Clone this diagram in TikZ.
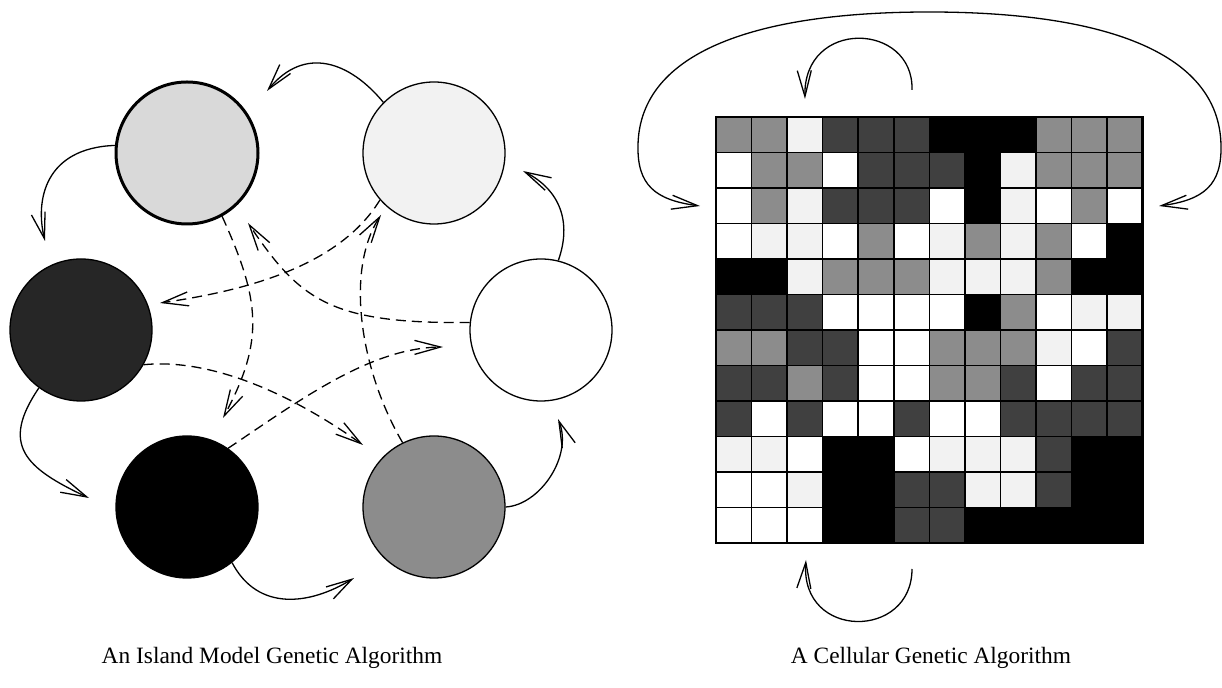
\documentclass[tikz,border=0pt]{standalone}
\usepackage{fontspec}
\setmainfont{Liberation Serif}
\usepackage{xcolor}
\usetikzlibrary{arrows.meta}
\definecolor{cA}{HTML}{D9D9D9}
\definecolor{cC}{HTML}{262626}
\definecolor{cW}{HTML}{FFFFFF}
\definecolor{cL}{HTML}{F2F2F2}
\definecolor{cG}{HTML}{8C8C8C}
\definecolor{cD}{HTML}{404040}
\definecolor{cB}{HTML}{000000}

\begin{document}
\begin{tikzpicture}[x=0.5pt, y=-0.5pt, island/.style={circle, draw=black, line width=0.65pt, minimum size=71pt, inner sep=0pt}]
            \useasboundingbox (0,0) rectangle (1222,688);
            \node[island, fill=cA, line width=1.5pt] (A) at (187,153) {};
            \node[island, fill=cL] (B) at (434,153) {};
            \node[island, fill=cC] (C) at (81,330) {};
            \node[island, fill=white] (D) at (541,330) {};
            \node[island, fill=black] (E) at (187,507) {};
            \node[island, fill=cG] (F) at (434,507) {};

            \coordinate (tBA) at (267,91);
            \coordinate (tAC) at (45,241);
            \coordinate (tCE) at (89,498);
            \coordinate (tEF) at (354,578);
            \coordinate (tFD) at (558,419);
            \coordinate (tDB) at (523,171);
            \coordinate (dAE) at (223,418);
            \coordinate (dDA) at (248,223);
            \coordinate (dBC) at (160,303);
            \coordinate (dCF) at (363,445);
            \coordinate (dED) at (443,347);
            \coordinate (dFB) at (381,215);

            \tikzset{ringarrow/.style={-{Straight Barb[length=13pt,width=7pt]}, line width=0.65pt}}
            \tikzset{migrant/.style={ringarrow, dash pattern=on 5pt off 3pt}}

            \draw[ringarrow] (B.135) .. controls (350,62) and (305,45) .. (tBA);
            \draw[ringarrow] (A.174) .. controls (45,148) and (35,200) .. (tAC);
            \draw[ringarrow] (C.234) .. controls (0,445) and (25,468) .. (tCE);
            \draw[ringarrow] (E.-51) .. controls (258,612) and (310,605) .. (tEF);
            \draw[ringarrow] (F.0) .. controls (540,505) and (573,456) .. (tFD);
            \draw[ringarrow] (D.76) .. controls (572,222) and (560,190) .. (tDB);

            \draw[migrant] (A.-61) .. controls (260,300) and (265,340) .. (dAE);
            \draw[migrant] (D.174) .. controls (330,324) and (300,300) .. (dDA);
            \draw[migrant] (B.221) .. controls (340,265) and (250,290) .. (dBC);
            \draw[migrant] (C.-29) .. controls (210,358) and (290,393) .. (dCF);
            \draw[migrant] (E.55) .. controls (300,400) and (370,348) .. (dED);
            \draw[migrant] (F.116) .. controls (360,370) and (345,270) .. (dFB);

            \foreach \row [count=\r from 0] in {
                {G,G,L,D,D,D,B,B,B,G,G,G},
                {W,G,G,W,D,D,D,B,L,G,G,G},
                {W,G,L,D,D,D,W,B,L,W,G,W},
                {W,L,L,W,G,W,L,G,L,G,W,B},
                {B,B,L,G,G,G,L,L,L,G,B,B},
                {D,D,D,W,W,W,W,B,G,W,L,L},
                {G,G,D,D,W,W,G,G,G,L,W,D},
                {D,D,G,D,W,W,G,G,D,W,D,D},
                {D,W,D,W,W,D,W,W,D,D,D,D},
                {L,L,W,B,B,W,L,L,L,D,B,B},
                {W,W,L,B,B,D,D,L,L,D,B,B},
                {W,W,W,B,B,D,D,B,B,B,B,B}}
                \foreach \c [count=\k from 0] in \row
                    \fill[c\c] ({716+\k*35.55},{117+\r*35.5}) rectangle ++(35.55,35.5);
            \foreach \i in {1,...,11} {
                \draw[line width=0.8pt] ({716+\i*35.55},117) -- ++(0,426);
                \draw[line width=0.8pt] (716,{117+\i*35.5}) -- ++(426.6,0);
            }
            \draw[line width=1.4pt] (716,117) rectangle (1142.6,543);

            \coordinate (lt) at (700,206);
            \coordinate (rt) at (1159,206);
            \coordinate (ts) at (912,90);
            \coordinate (tt) at (805,99);
            \coordinate (bs) at (912,569);
            \coordinate (bt) at (806,560);

            \draw[ringarrow, {Straight Barb[length=13pt,width=7pt]}-{Straight Barb[length=13pt,width=7pt]}] (lt) .. controls (655,200) and (637,185) .. (638,145) .. controls (640,50) and (760,12) .. (929,12) .. controls (1099,12) and (1219,50) .. (1221,145) .. controls (1222,185) and (1204,200) .. (rt);
            \draw[ringarrow] (ts) .. controls (914,22) and (803,18) .. (tt);
            \draw[ringarrow] (bs) .. controls (912,640) and (800,640) .. (bt);

            \node[font=\fontsize{11.7pt}{14pt}\selectfont] (capL) at (272,658) {An Island Model Genetic Algorithm};
            \node[font=\fontsize{11.7pt}{14pt}\selectfont] (capR) at (931,658) {A Cellular Genetic Algorithm};

        \end{tikzpicture}
\end{document}
